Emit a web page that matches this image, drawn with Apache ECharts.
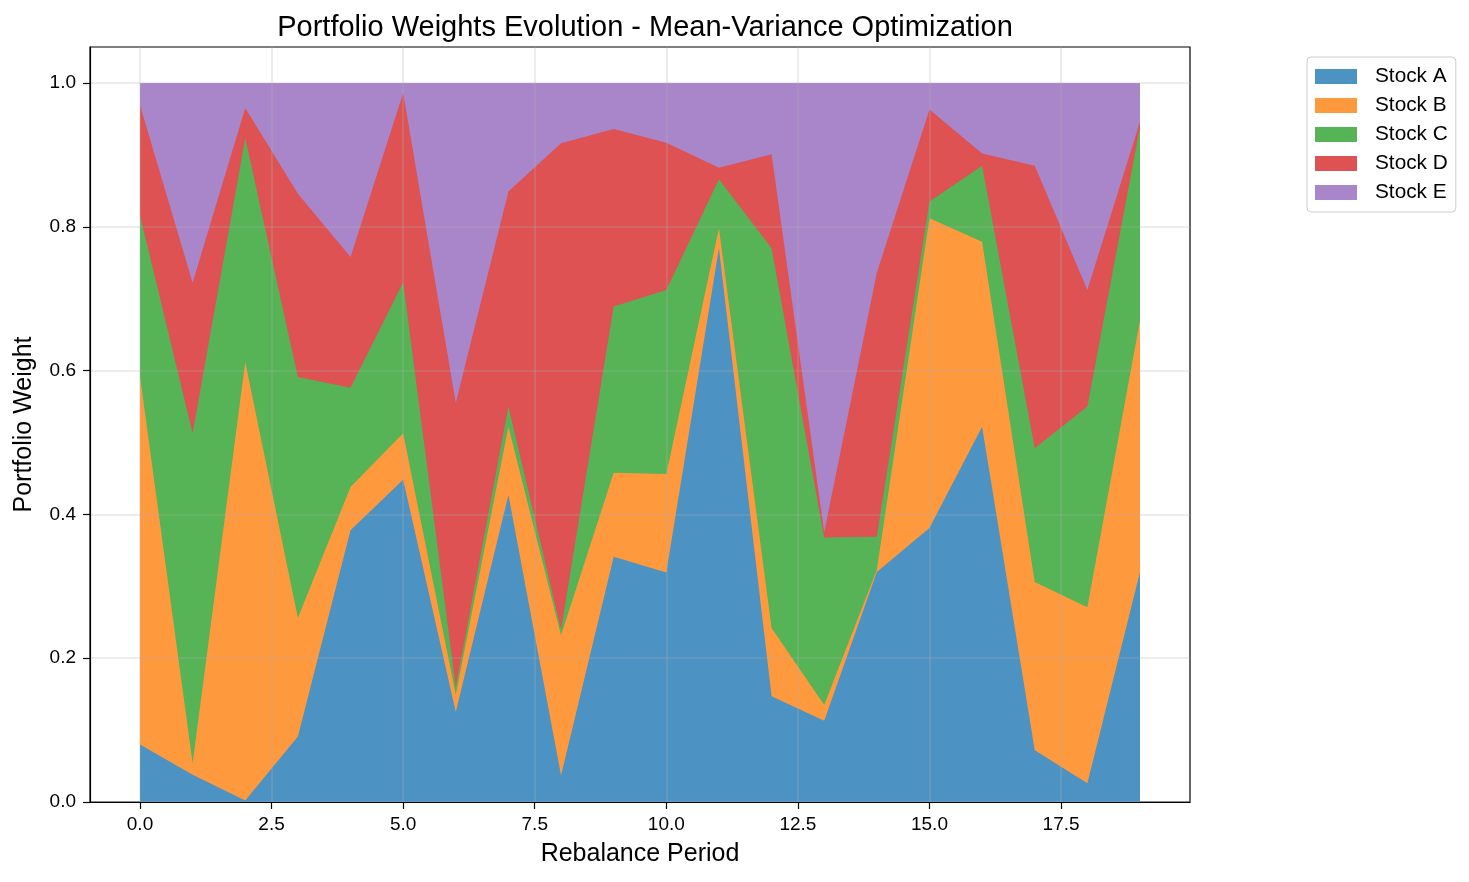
<!DOCTYPE html>
<html>
<head>
<meta charset="utf-8">
<script src="https://cdn.jsdelivr.net/npm/echarts@6/dist/echarts.min.js"></script>
<style>
html,body{margin:0;padding:0;background:#fff;}
#chart{width:1469px;height:882px;}
</style>
</head>
<body>
<div id="chart"></div>
<script>
const periods = [0,1,2,3,4,5,6,7,8,9,10,11,12,13,14,15,16,17,18,19];
const stockA = [0.080,0.038,0.002,0.091,0.378,0.448,0.125,0.427,0.037,0.341,0.319,0.770,0.147,0.113,0.320,0.381,0.522,0.072,0.026,0.320];
const stockB = [0.512,0.016,0.610,0.165,0.060,0.065,0.024,0.095,0.195,0.117,0.137,0.028,0.095,0.022,0.003,0.431,0.257,0.234,0.245,0.350];
const stockC = [0.224,0.459,0.311,0.335,0.138,0.210,0.011,0.028,0.008,0.231,0.256,0.068,0.528,0.233,0.046,0.023,0.106,0.186,0.279,0.269];
const stockD = [0.153,0.209,0.042,0.255,0.182,0.263,0.395,0.299,0.676,0.247,0.205,0.016,0.131,0.007,0.367,0.128,0.017,0.393,0.162,0.007];
const stockE = [0.031,0.278,0.035,0.154,0.242,0.014,0.445,0.151,0.084,0.064,0.083,0.118,0.099,0.625,0.264,0.037,0.098,0.115,0.288,0.054];
const seriesNames = ['Stock A','Stock B','Stock C','Stock D','Stock E'];
const xTicks = [0,2.5,5,7.5,10,12.5,15,17.5];
const yTicks = [0,0.2,0.4,0.6,0.8,1.0];

// tab10 colours at alpha 0.8 over white
const colors = ['#4c92c3','#ff993e','#56b356','#de5253','#a985ca'];
const allData = [stockA, stockB, stockC, stockD, stockE];
const font = 'Liberation Sans, Arial, Helvetica, sans-serif';

// cumulative tops (stacking done here; each area filled down to 0, upper layers drawn first)
const cumulative = [];
allData.forEach((arr,i)=>{
  cumulative.push(arr.map((v,j)=> v + (i>0 ? cumulative[i-1][j] : 0)));
});

const series = [];
for (let i = seriesNames.length-1; i >= 0; i--) {
  series.push({
    name:seriesNames[i], type:'line', symbol:'none',
    color:colors[i],
    lineStyle:{width:0, opacity:0},
    areaStyle:{color:colors[i], opacity:1, origin:'start'},
    data: periods.map((p,j)=>[p, cumulative[i][j]])
  });
}

const chart = echarts.init(document.getElementById('chart'));
const gridLine = {show:true, lineStyle:{color:'rgba(176,176,176,0.3)', width:1.6}};
chart.setOption({
  animation:false,
  title:{
    text:'Portfolio Weights Evolution - Mean-Variance Optimization',
    left:640, textAlign:'center', top:8,
    textStyle:{fontFamily:font, fontSize:29, fontWeight:'normal', color:'#000'}
  },
  legend:{
    orient:'vertical', left:1307, top:57,
    padding:[9,8,9,8],
    borderColor:'#cccccc', borderWidth:1, borderRadius:4,
    itemWidth:42, itemHeight:15, itemGap:8,
    icon:'rect',
    textStyle:{fontFamily:font, fontSize:20.8, color:'#000', padding:[0,0,0,13]},
    data:seriesNames
  },
  grid:{left:90, top:47, width:1100, height:755, show:true, borderColor:'#000', borderWidth:1.2, backgroundColor:'transparent'},
  xAxis:{
    type:'value', min:-0.95, max:19.95, z:5,
    name:'Rebalance Period', nameLocation:'middle', nameGap:40,
    nameTextStyle:{fontFamily:font, fontSize:25, color:'#000'},
    axisLine:{show:true, onZero:false, lineStyle:{color:'#000', width:1.2}},
    axisTick:{show:true, length:7, customValues:xTicks, lineStyle:{color:'#000', width:1.2}},
    axisLabel:{customValues:xTicks, margin:13, fontFamily:font, fontSize:19, color:'#000', formatter:v=>v.toFixed(1)},
    splitLine:gridLine
  },
  yAxis:{
    type:'value', min:0, max:1.05, z:5,
    name:'Portfolio Weight', nameLocation:'middle', nameGap:53,
    nameTextStyle:{fontFamily:font, fontSize:25, color:'#000'},
    axisLine:{show:true, onZero:false, lineStyle:{color:'#000', width:1.2}},
    axisTick:{show:true, length:7, customValues:yTicks, lineStyle:{color:'#000', width:1.2}},
    axisLabel:{customValues:yTicks, margin:14, fontFamily:font, fontSize:19, color:'#000', formatter:v=>v.toFixed(1)},
    splitLine:gridLine
  },
  series: series
});
</script>
</body>
</html>
